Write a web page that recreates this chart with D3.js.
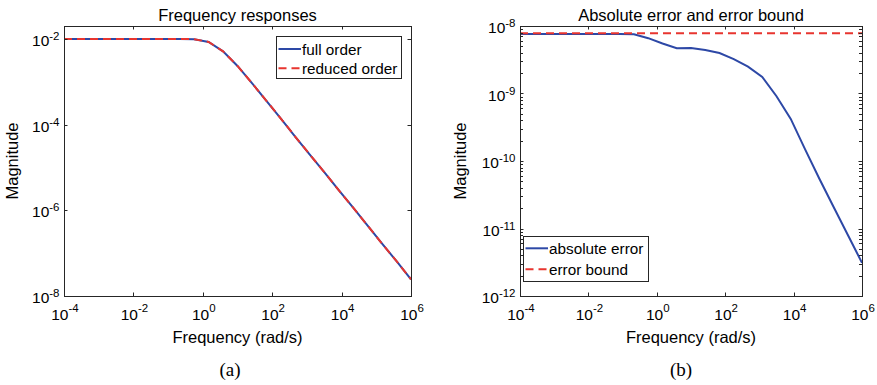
<!DOCTYPE html>
<html>
<head>
<meta charset="utf-8">
<script src="https://cdn.jsdelivr.net/npm/d3@7"></script>
<style>
	html, body { margin: 0; padding: 0; background: #fff; }
	svg text { font-family: "Liberation Sans", Arial, Helvetica, sans-serif; fill: #000; }
	svg text.caption { font-family: "Liberation Serif", "Times New Roman", serif; }
</style>
</head>
<body>
<svg id="chart" width="877" height="385"></svg>
<script>
// sample frequencies (rad/s), 25 points per the plotted curve
var freq = [1e-4, 2.61e-4, 6.81e-4, 1.78e-3, 4.64e-3, 1.21e-2, 3.16e-2, 8.25e-2, 0.215, 0.562,
	1.47, 3.83, 10, 26.1, 68.1, 178, 464, 1212, 3162, 8254, 21544, 56234, 146780, 383000, 1e6];

// panel (a)
var fullOrder = [0.01, 0.01, 0.01, 0.01, 0.01, 0.01, 0.01, 0.01, 0.01, 0.00987,
	0.00851, 0.00513, 0.00234, 9.3e-4, 3.6e-4, 1.38e-4, 5.2e-5, 2.0e-5, 7.8e-6, 2.95e-6,
	1.15e-6, 4.4e-7, 1.66e-7, 6.5e-8, 2.45e-8];
var reducedOrder = [0.01, 0.01, 0.01, 0.01, 0.01, 0.01, 0.01, 0.01, 0.01, 0.00987,
	0.00851, 0.00513, 0.00234, 9.3e-4, 3.6e-4, 1.38e-4, 5.2e-5, 2.0e-5, 7.8e-6, 2.95e-6,
	1.15e-6, 4.4e-7, 1.66e-7, 6.5e-8, 2.45e-8];

// panel (b)
var absError = [7.6e-9, 7.6e-9, 7.6e-9, 7.6e-9, 7.6e-9, 7.6e-9, 7.6e-9, 7.6e-9, 7.55e-9, 6.6e-9,
	5.5e-9, 4.7e-9, 4.73e-9, 4.4e-9, 3.98e-9, 3.24e-9, 2.5e-9, 1.76e-9, 9.1e-10, 4.2e-10,
	1.5e-10, 5.5e-11, 2.1e-11, 8.1e-12, 3.1e-12];
var boundFreq = [1e-4, 1e6];
var errorBound = [7.8e-9, 7.8e-9];

var xTickExp = [-4, -2, 0, 2, 4, 6];
var yTickExpA = [-2, -4, -6, -8];
var yTickExpB = [-8, -9, -10, -11, -12];

var BLUE = "#2d48a6", RED = "#e8352f", AXIS = "#262626";

var svg = d3.select("#chart");

function drawPanel(opt){
	var g = svg.append("g");
	var x = d3.scaleLog().domain([1e-4, 1e6]).range([opt.left, opt.right]);
	var y = d3.scaleLog().domain(opt.yDomain).range([opt.bottom, opt.top]);
	var tl = 3.5;

	g.append("rect").attr("x", opt.left).attr("y", opt.top)
		.attr("width", opt.right - opt.left).attr("height", opt.bottom - opt.top)
		.attr("fill", "#fff");

	// curves
	var line = d3.line().x(function(d){ return x(d[0]); }).y(function(d){ return y(d[1]); });
	opt.series.forEach(function(s){
		g.append("path").datum(d3.zip(s.x, s.y))
			.attr("d", line).attr("fill", "none")
			.attr("stroke", s.color).attr("stroke-width", 2)
			.attr("stroke-dasharray", s.dash ? "8,5" : null);
	});

	// ticks (inward, all four sides)
	var ticks = g.append("g").attr("stroke", AXIS).attr("stroke-width", 1);
	xTickExp.forEach(function(e){
		var px = Math.round(x(Math.pow(10, e))) + 0.5;
		ticks.append("line").attr("x1", px).attr("x2", px).attr("y1", opt.bottom).attr("y2", opt.bottom - tl);
		ticks.append("line").attr("x1", px).attr("x2", px).attr("y1", opt.top).attr("y2", opt.top + tl);
	});
	var yTicks = opt.yTickExp.map(function(e){ return Math.pow(10, e); });
	if (opt.minor) {
		y.ticks().forEach(function(v){
			var py = Math.round(y(v)) + 0.5;
			ticks.append("line").attr("x1", opt.left).attr("x2", opt.left + 3).attr("y1", py).attr("y2", py);
			ticks.append("line").attr("x1", opt.right).attr("x2", opt.right - 3).attr("y1", py).attr("y2", py);
		});
	}
	yTicks.forEach(function(v){
		var py = Math.round(y(v)) + 0.5;
		ticks.append("line").attr("x1", opt.left).attr("x2", opt.left + tl).attr("y1", py).attr("y2", py);
		ticks.append("line").attr("x1", opt.right).attr("x2", opt.right - tl).attr("y1", py).attr("y2", py);
	});

	g.append("rect").attr("x", opt.left + 0.5).attr("y", opt.top + 0.5)
		.attr("width", opt.right - opt.left).attr("height", opt.bottom - opt.top)
		.attr("fill", "none").attr("stroke", AXIS).attr("stroke-width", 1);

	// tick labels
	xTickExp.forEach(function(e){
		var t = g.append("text").attr("x", x(Math.pow(10, e)) + 1).attr("y", opt.bottom + 23.5)
			.attr("text-anchor", "middle").style("font-size", "15.5px");
		t.append("tspan").text("10");
		t.append("tspan").attr("dy", -8).style("font-size", "11.5px").text(e < 0 ? "-" + (-e) : e);
	});
	opt.yTickExp.forEach(function(e){
		var t = g.append("text").attr("x", opt.left - 4.5).attr("y", y(Math.pow(10, e)) + 7)
			.attr("text-anchor", "end").style("font-size", "15.5px");
		t.append("tspan").text("10");
		t.append("tspan").attr("dy", -6).style("font-size", "11.5px").text(e < 0 ? "-" + (-e) : e);
	});

	var cx = (opt.left + opt.right) / 2;
	g.append("text").attr("x", cx).attr("y", 21).attr("text-anchor", "middle")
		.style("font-size", "16.5px").text(opt.title);
	g.append("text").attr("x", cx).attr("y", 342.5).attr("text-anchor", "middle")
		.style("font-size", "16.5px").text("Frequency (rad/s)");
	g.append("text").attr("transform", "translate(" + opt.yLabelX + "," + ((opt.top + opt.bottom) / 2) + ") rotate(-90)")
		.attr("text-anchor", "middle").style("font-size", "16.5px").text("Magnitude");
	g.append("text").attr("class", "caption").attr("x", opt.captionX).attr("y", 376)
		.attr("text-anchor", "middle").style("font-size", "19px").text(opt.caption);

	// legend
	var lg = opt.legend;
	g.append("rect").attr("x", lg.x + 0.5).attr("y", lg.y + 0.5).attr("width", lg.w).attr("height", lg.h)
		.attr("fill", "#fff").attr("stroke", AXIS).attr("stroke-width", 1);
	opt.series.forEach(function(s, i){
		var ry = lg.rows[i];
		g.append("line").attr("x1", lg.x + 2.5).attr("x2", lg.x + 25).attr("y1", ry).attr("y2", ry)
			.attr("stroke", s.color).attr("stroke-width", 2)
			.attr("stroke-dasharray", s.dash ? "8,5" : null);
		g.append("text").attr("x", lg.x + 26).attr("y", ry + 5.5)
			.style("font-size", "15.3px").text(s.name);
	});
}

drawPanel({
	left: 64, right: 411, top: 26, bottom: 296,
	yDomain: [1e-8, 0.02],
	yTickExp: yTickExpA,
	minor: false,
	title: "Frequency responses",
	yLabelX: 17.5,
	caption: "(a)", captionX: 230,
	series: [
		{ name: "full order", x: freq, y: fullOrder, color: BLUE, dash: false },
		{ name: "reduced order", x: freq, y: reducedOrder, color: RED, dash: true }
	],
	legend: { x: 276, y: 36, w: 125, h: 42, rows: [49, 68.3] }
});

drawPanel({
	left: 520, right: 862, top: 26, bottom: 296,
	yDomain: [1e-12, 1e-8],
	yTickExp: yTickExpB,
	minor: true,
	title: "Absolute error and error bound",
	yLabelX: 466,
	caption: "(b)", captionX: 681,
	series: [
		{ name: "absolute error", x: freq, y: absError, color: BLUE, dash: false },
		{ name: "error bound", x: boundFreq, y: errorBound, color: RED, dash: true }
	],
	legend: { x: 523, y: 236, w: 125, h: 45, rows: [248.3, 269.3] }
});
</script>
</body>
</html>
